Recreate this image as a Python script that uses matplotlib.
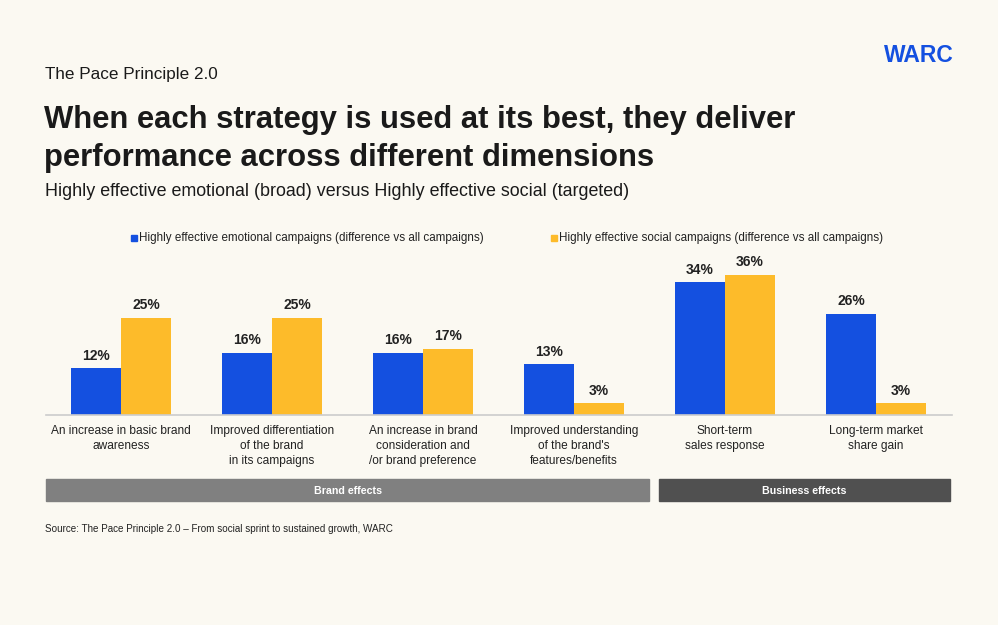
import matplotlib.pyplot as plt
from matplotlib.patches import Rectangle
import numpy as np

categories = [
    "An increase in basic brand\nawareness",
    "Improved differentiation\nof the brand\nin its campaigns",
    "An increase in brand\nconsideration and\n/or brand preference",
    "Improved understanding\nof the brand's\nfeatures/benefits",
    "Short-term\nsales response",
    "Long-term market\nshare gain",
]
emotional = [12, 16, 16, 13, 34, 26]
social = [25, 25, 17, 3, 36, 3]
series_names = [
    "Highly effective emotional campaigns (difference vs all campaigns)",
    "Highly effective social campaigns (difference vs all campaigns)",
]
groups = ["Brand effects", "Business effects"]

BG = "#FBF9F2"
BLUE = "#1450E0"
YELLOW = "#FDBB2A"
DARK = "#1a1a1a"

W, H = 998, 625
fig = plt.figure(figsize=(W / 100, H / 100), dpi=100, facecolor=BG)
plt.rcParams['font.family'] = ['Liberation Sans', 'DejaVu Sans']


def fx(px):
    return px / W


def fy(py):
    return 1 - py / H


# header
fig.text(fx(45), fy(75), "The Pace Principle 2.0", fontsize=12.3, color=DARK, va='center')
fig.text(fx(954), fy(55), "WARC", fontsize=16.5, color=BLUE, weight='bold', ha='right', va='center')
fig.text(fx(44), fy(120), "When each strategy is used at its best, they deliver",
         fontsize=22.3, weight='bold', color=DARK, va='center')
fig.text(fx(44), fy(158), "performance across different dimensions",
         fontsize=22.3, weight='bold', color=DARK, va='center')
fig.text(fx(45), fy(191), "Highly effective emotional (broad) versus Highly effective social (targeted)",
         fontsize=12.9, color=DARK, va='center')

# chart
ax = fig.add_axes([fx(45.5), fy(415), fx(906), 156 / H])
ax.set_facecolor(BG)
x = np.arange(len(categories))
bw = 50 / 151
b1 = ax.bar(x - bw / 2, emotional, bw, color=BLUE)
b2 = ax.bar(x + bw / 2, social, bw, color=YELLOW)
for bars, vals in ((b1, emotional), (b2, social)):
    for r, v in zip(bars, vals):
        ax.annotate(f"{v}%", (r.get_x() + r.get_width() / 2, r.get_height()),
                    xytext=(0, 4), textcoords='offset points', ha='center', va='bottom',
                    fontsize=10, weight='bold', color="#222222")
ax.set_xlim(-0.5, 5.5)
ax.set_ylim(0, 40)
for s in ['top', 'right', 'left']:
    ax.spines[s].set_visible(False)
ax.spines['bottom'].set_color('#cccccc')
ax.spines['bottom'].set_linewidth(1.2)
ax.set_yticks([])
ax.set_xticks(x)
ax.set_xticklabels(categories, fontsize=8.6, color="#222222", linespacing=1.33, va='top')
ax.tick_params(axis='x', length=0, pad=7.5)

# legend
for px, name, c in ((131, series_names[0], BLUE), (551, series_names[1], YELLOW)):
    fig.patches.append(Rectangle((fx(px), fy(241)), fx(6), 6 / H,
                                 transform=fig.transFigure, color=c))
    fig.text(fx(px + 8), fy(238), name, fontsize=8.4, color="#222222", va='center')

# group bands
bands = [(46, 649, "#808080", groups[0]), (659, 950, "#505050", groups[1])]
for x0, x1, c, label in bands:
    fig.patches.append(Rectangle((fx(x0), fy(501)), fx(x1 - x0), 22 / H,
                                 transform=fig.transFigure, color=c))
    fig.text(fx((x0 + x1) / 2), fy(490.5), label, fontsize=7.7, weight='bold',
             color='white', ha='center', va='center')

fig.text(fx(45), fy(529), "Source: The Pace Principle 2.0 \u2013 From social sprint to sustained growth, WARC",
         fontsize=7.1, color="#222222", va='center')

fig.savefig("out.png", dpi=100, facecolor=BG)
